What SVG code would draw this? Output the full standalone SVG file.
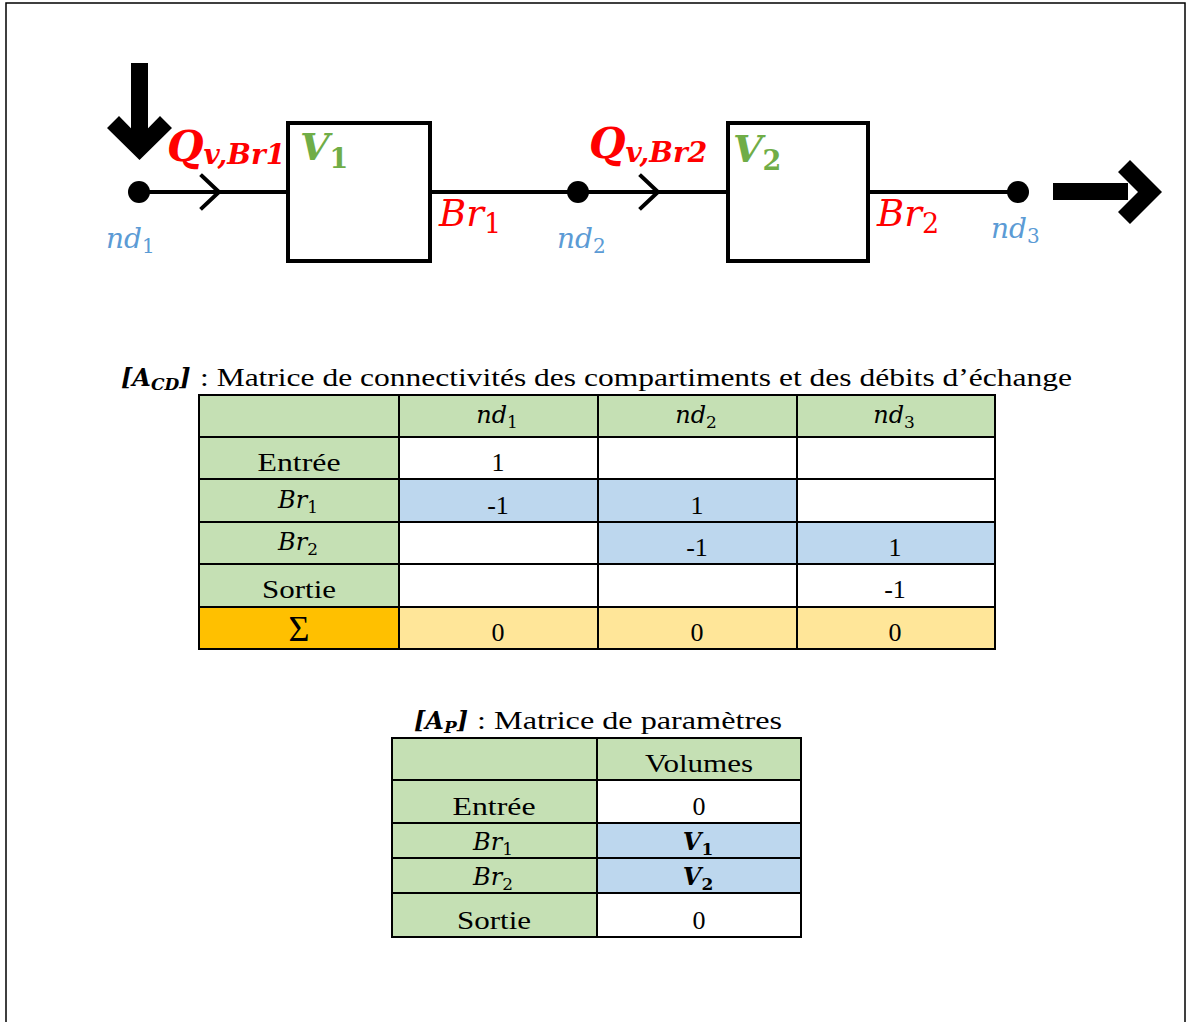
<svg xmlns="http://www.w3.org/2000/svg" width="1187" height="1022" viewBox="0 0 1187 1022">
<style>
.ln{stroke:#000;stroke-width:4;fill:none}
.box{stroke:#000;stroke-width:4;fill:#fff}
.chev{stroke:#000;stroke-width:4;fill:none;stroke-linecap:square}
.m{font-family:"DejaVu Serif","Liberation Serif",serif;font-style:italic}
.mb{font-family:"DejaVu Serif","Liberation Serif",serif;font-style:italic;font-weight:bold}
.red{fill:#FF0000}
.grn{fill:#70AD47}
.blu{fill:#5B9BD5}
.t{font-family:"Liberation Serif",serif;font-size:26px;fill:#000}
.tm{font-family:"DejaVu Serif","Liberation Serif",serif;font-style:italic;font-size:24px;fill:#000}
.c{stroke:#000;stroke-width:2}
.g{fill:#C5E0B4}
.b{fill:#BDD7EE}
.w{fill:#FFFFFF}
.o{fill:#FFC000}
.lo{fill:#FFE699}
</style>
<rect x="6" y="3" width="1179" height="1040" fill="#fff" stroke="#000" stroke-width="1.5"/>

<g id="connectors">
<line class="ln" x1="139" y1="192" x2="288" y2="192"/>
<line class="ln" x1="430" y1="192" x2="728" y2="192"/>
<line class="ln" x1="868" y1="192" x2="1018" y2="192"/>
<polyline class="chev" points="202,176 219,192 202,208"/>
<polyline class="chev" points="641,176 658,192 641,208"/>
</g>

<g id="input-arrow">
<rect x="131" y="63" width="17" height="75" fill="#000"/>
<polygon points="107,128 119,116 139.5,137 160,116 172,128 139.5,160" fill="#000"/>
</g>
<g id="output-arrow">
<rect x="1053" y="183" width="75" height="17" fill="#000"/>
<polygon points="1118,172 1130,160 1162,192 1130,224 1118,212 1138,192" fill="#000"/>
</g>

<g id="nd1">
<circle cx="139" cy="192" r="11" fill="#000"/>
<text class="m blu" x="106" y="248" font-size="28">nd<tspan font-size="20" font-style="normal" dy="5">1</tspan></text>
</g>
<g id="nd2">
<circle cx="578" cy="192" r="11" fill="#000"/>
<text class="m blu" x="557" y="248" font-size="28">nd<tspan font-size="20" font-style="normal" dy="5">2</tspan></text>
</g>
<g id="nd3">
<circle cx="1018" cy="192" r="11" fill="#000"/>
<text class="m blu" x="991" y="238" font-size="28">nd<tspan font-size="20" font-style="normal" dy="5">3</tspan></text>
</g>

<g id="V1">
<rect class="box" x="288" y="123" width="142" height="138"/>
<text class="mb grn" x="300" y="160" font-size="38">V<tspan font-size="27" font-style="normal" dy="8">1</tspan></text>
</g>
<g id="V2">
<rect class="box" x="728" y="123" width="140" height="138"/>
<text class="mb grn" x="733" y="162" font-size="38">V<tspan font-size="27" font-style="normal" dy="8">2</tspan></text>
</g>

<g id="labels">
<text class="mb red" x="167" y="161" font-size="42">Q<tspan font-size="28" dy="3">v,Br1</tspan></text>
<text class="mb red" x="589" y="158" font-size="42">Q<tspan font-size="28" dy="4">v,Br2</tspan></text>
<text class="m red" x="439" y="226" font-size="37">Br<tspan font-size="27" font-style="normal" dy="7">1</tspan></text>
<text class="m red" x="877" y="226" font-size="37">Br<tspan font-size="27" font-style="normal" dy="7">2</tspan></text>
</g>

<g id="title-acd">
<text x="121" y="386"><tspan class="mb" font-size="24" font-style="normal">[</tspan><tspan class="mb" font-size="24">A</tspan><tspan class="mb" font-size="17" dy="4">CD</tspan><tspan class="mb" font-size="24" font-style="normal" dy="-4">]</tspan></text>
<text class="t" x="200" y="386" textLength="872" lengthAdjust="spacingAndGlyphs">: Matrice de connectivités des compartiments et des débits d’échange</text>
</g>

<g id="table-acd">
<rect class="g" x="199" y="395" width="200" height="212"/>
<rect class="g" x="399" y="395" width="596" height="42"/>
<rect class="w" x="399" y="437" width="596" height="42"/>
<rect class="b" x="399" y="479" width="398" height="43"/>
<rect class="w" x="797" y="479" width="198" height="43"/>
<rect class="w" x="399" y="522" width="199" height="42"/>
<rect class="b" x="598" y="522" width="397" height="42"/>
<rect class="w" x="399" y="564" width="596" height="43"/>
<rect class="o" x="199" y="607" width="200" height="42"/>
<rect class="lo" x="399" y="607" width="596" height="42"/>
<g class="c">
<line x1="199" y1="395" x2="995" y2="395"/>
<line x1="199" y1="437" x2="995" y2="437"/>
<line x1="199" y1="479" x2="995" y2="479"/>
<line x1="199" y1="522" x2="995" y2="522"/>
<line x1="199" y1="564" x2="995" y2="564"/>
<line x1="199" y1="607" x2="995" y2="607"/>
<line x1="199" y1="649" x2="995" y2="649"/>
<line x1="199" y1="394" x2="199" y2="650"/>
<line x1="399" y1="394" x2="399" y2="650"/>
<line x1="598" y1="394" x2="598" y2="650"/>
<line x1="797" y1="394" x2="797" y2="650"/>
<line x1="995" y1="394" x2="995" y2="650"/>
</g>
<g text-anchor="middle">
<text class="tm" x="497" y="423">nd<tspan font-size="17" font-style="normal" dy="5">1</tspan></text>
<text class="tm" x="696" y="423">nd<tspan font-size="17" font-style="normal" dy="5">2</tspan></text>
<text class="tm" x="894" y="423">nd<tspan font-size="17" font-style="normal" dy="5">3</tspan></text>
<text class="t" x="299" y="471" textLength="83" lengthAdjust="spacingAndGlyphs">Entrée</text>
<text class="tm" x="298" y="508">Br<tspan font-size="17" font-style="normal" dy="5">1</tspan></text>
<text class="tm" x="298" y="550">Br<tspan font-size="17" font-style="normal" dy="5">2</tspan></text>
<text class="t" x="299" y="598" textLength="74" lengthAdjust="spacingAndGlyphs">Sortie</text>
<text class="t" x="299" y="641" style="font-size:36px">Σ</text>
<text class="t" x="498" y="471">1</text>
<text class="t" x="498" y="514">-1</text>
<text class="t" x="697" y="514">1</text>
<text class="t" x="697" y="556">-1</text>
<text class="t" x="895" y="556">1</text>
<text class="t" x="895" y="598">-1</text>
<text class="t" x="498" y="641">0</text>
<text class="t" x="697" y="641">0</text>
<text class="t" x="895" y="641">0</text>
</g>
</g>

<g id="title-ap">
<text x="414" y="729"><tspan class="mb" font-size="24" font-style="normal">[</tspan><tspan class="mb" font-size="24">A</tspan><tspan class="mb" font-size="17" dy="4">P</tspan><tspan class="mb" font-size="24" font-style="normal" dy="-4">]</tspan></text>
<text class="t" x="477" y="729" textLength="305" lengthAdjust="spacingAndGlyphs">: Matrice de paramètres</text>
</g>

<g id="table-ap">
<rect class="g" x="392" y="738" width="205" height="199"/>
<rect class="g" x="597" y="738" width="204" height="42"/>
<rect class="w" x="597" y="780" width="204" height="43"/>
<rect class="b" x="597" y="823" width="204" height="70"/>
<rect class="w" x="597" y="893" width="204" height="44"/>
<g class="c">
<line x1="392" y1="738" x2="801" y2="738"/>
<line x1="392" y1="780" x2="801" y2="780"/>
<line x1="392" y1="823" x2="801" y2="823"/>
<line x1="392" y1="858" x2="801" y2="858"/>
<line x1="392" y1="893" x2="801" y2="893"/>
<line x1="392" y1="937" x2="801" y2="937"/>
<line x1="392" y1="737" x2="392" y2="938"/>
<line x1="597" y1="737" x2="597" y2="938"/>
<line x1="801" y1="737" x2="801" y2="938"/>
</g>
<g text-anchor="middle">
<text class="t" x="699" y="772" textLength="108" lengthAdjust="spacingAndGlyphs">Volumes</text>
<text class="t" x="494" y="815" textLength="83" lengthAdjust="spacingAndGlyphs">Entrée</text>
<text class="t" x="699" y="815">0</text>
<text class="tm" x="493" y="850">Br<tspan font-size="17" font-style="normal" dy="5">1</tspan></text>
<text class="tm" x="493" y="885">Br<tspan font-size="17" font-style="normal" dy="5">2</tspan></text>
<text class="tm" x="698" y="850" font-weight="bold">V<tspan font-size="17" font-style="normal" dy="5">1</tspan></text>
<text class="tm" x="698" y="885" font-weight="bold">V<tspan font-size="17" font-style="normal" dy="5">2</tspan></text>
<text class="t" x="494" y="929" textLength="74" lengthAdjust="spacingAndGlyphs">Sortie</text>
<text class="t" x="699" y="929">0</text>
</g>
</g>
</svg>
